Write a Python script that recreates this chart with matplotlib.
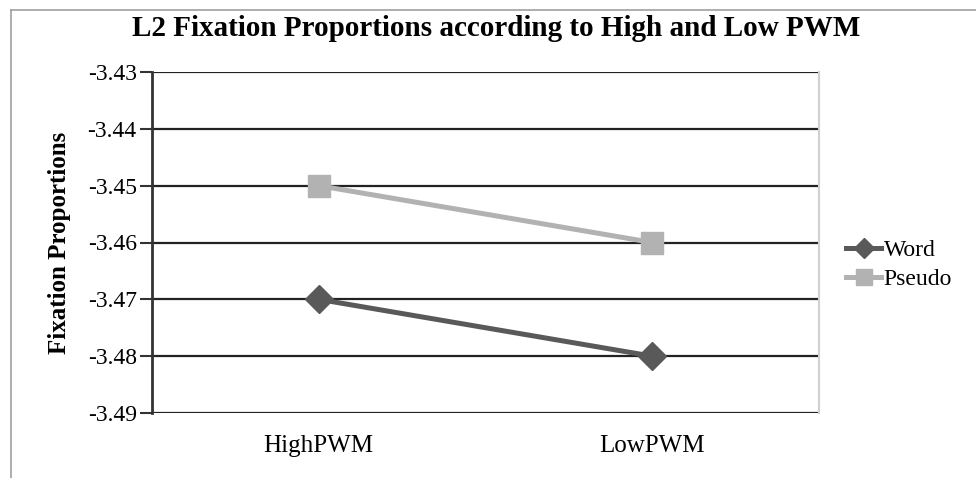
import matplotlib
matplotlib.use("Agg")
import matplotlib.pyplot as plt
from matplotlib.lines import Line2D

categories = ["HighPWM", "LowPWM"]
word = [-3.47, -3.48]
pseudo = [-3.45, -3.46]
yticks = [-3.43, -3.44, -3.45, -3.46, -3.47, -3.48, -3.49]

plt.rcParams['font.family'] = ['Liberation Serif', 'DejaVu Serif']

fig = plt.figure(figsize=(9.76, 4.78), dpi=100)
ax = fig.add_axes([152 / 976, 1 - 413 / 478, 667 / 976, 341 / 478])

x = list(range(len(categories)))
ax.plot(x, word, color='#595959', lw=3.6, marker='D', ms=14, label='Word', zorder=3)
ax.plot(x, pseudo, color='#b2b2b2', lw=3.6, marker='s', ms=16, label='Pseudo', zorder=3)

ax.set_xlim(-0.5, 1.5)
ax.set_ylim(-3.49, -3.43)
ax.set_yticks(yticks)
ax.set_yticklabels([f"{v:.2f}" for v in yticks])
ax.set_xticks(x)
ax.set_xticklabels(categories)
ax.tick_params(axis='y', length=9, width=1.5, color='#333333', labelsize=17, pad=2)
ax.tick_params(axis='x', length=0, labelsize=18, pad=16)
ax.grid(axis='y', color='#222222', lw=1.6)
ax.set_axisbelow(True)

for s in ['top', 'bottom']:
    ax.spines[s].set_visible(False)
ax.spines['left'].set_color('#333333')
ax.spines['left'].set_linewidth(2)
ax.spines['right'].set_color('#d0d0d0')
ax.spines['right'].set_linewidth(1.5)

ax.set_ylabel("Fixation Proportions", fontsize=18, fontweight='bold', labelpad=12)
fig.text(496 / 976, 1 - 28 / 478, "L2 Fixation Proportions according to High and Low PWM",
         ha='center', va='center', fontsize=21, fontweight='bold')

ax.legend(loc='center left', bbox_to_anchor=((846 - 152) / 667, 0.434), frameon=False,
          fontsize=17, handlelength=1.5, handletextpad=0.1, labelspacing=0.3,
          borderaxespad=0, borderpad=0, markerscale=0.75)

# outer chart border (left and top edges visible in the reference)
fig.add_artist(Line2D([11 / 976, 11 / 976], [0, 1 - 10 / 478], color='#a0a0a0', lw=1.2,
                      transform=fig.transFigure))
fig.add_artist(Line2D([11 / 976, 1], [1 - 10 / 478, 1 - 10 / 478], color='#a0a0a0', lw=1.2,
                      transform=fig.transFigure))

fig.savefig("out.png", dpi=100, facecolor='white')
